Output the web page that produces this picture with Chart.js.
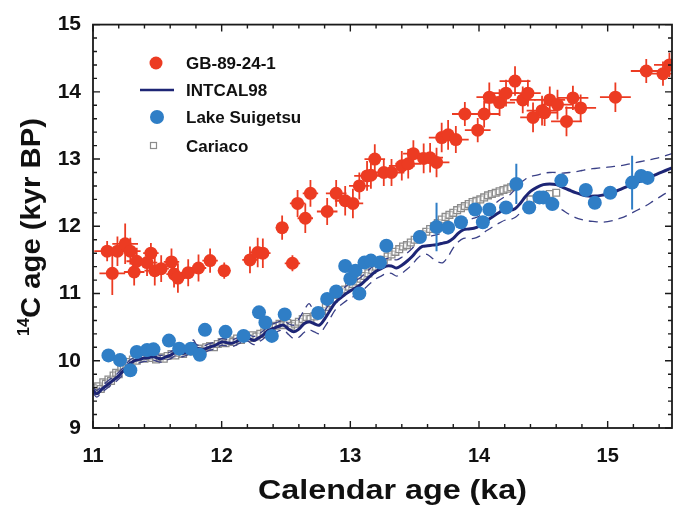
<!DOCTYPE html>
<html>
<head>
<meta charset="utf-8">
<script src="https://cdn.jsdelivr.net/npm/chart.js@4.4.1/dist/chart.umd.min.js"></script>
<style>
  body { margin: 0; background: #fff; }
  #wrap { width: 673px; height: 508px; }
</style>
</head>
<body>
<div id="wrap"><canvas id="chart" width="673" height="508"></canvas></div>
<script>
// GB-89-24-1 (calendar age ka, 14C age kyr BP, errors)
const gbAge = [11.11, 11.15, 11.19, 11.25, 11.29, 11.32, 11.34, 11.42, 11.45, 11.48, 11.53, 11.61, 11.63, 11.66,
  11.74, 11.82, 11.91, 12.02, 12.22, 12.28, 12.32, 12.47, 12.55, 12.59, 12.65, 12.69, 12.82, 12.89, 12.96, 13.02,
  13.07, 13.13, 13.16, 13.19, 13.26, 13.32, 13.40, 13.45, 13.49, 13.57, 13.62, 13.67, 13.71, 13.76, 13.82, 13.89,
  13.99, 14.04, 14.08, 14.16, 14.21, 14.28, 14.34, 14.38, 14.42, 14.49, 14.51, 14.55, 14.61, 14.68, 14.73, 14.79,
  15.06, 15.30, 15.43, 15.48];
const gbC14 = [11.63, 11.30, 11.63, 11.74, 11.63, 11.32, 11.48, 11.46, 11.60, 11.34, 11.37, 11.47, 11.29, 11.23,
  11.31, 11.38, 11.49, 11.34, 11.50, 11.61, 11.60, 11.98, 11.45, 12.34, 12.12, 12.49, 12.22, 12.49, 12.38, 12.34,
  12.60, 12.75, 12.76, 13.00, 12.80, 12.80, 12.90, 12.93, 13.08, 13.01, 13.02, 12.95, 13.32, 13.36, 13.29, 13.67,
  13.43, 13.67, 13.92, 13.84, 13.98, 14.16, 13.88, 13.98, 13.62, 13.72, 13.69, 13.88, 13.81, 13.56, 13.91, 13.76,
  13.92, 14.31, 14.27, 14.40];
const gbAgeErr = [0.10, 0.10, 0.08, 0.10, 0.08, 0.08, 0.08, 0.08, 0.06, 0.08, 0.06, 0.06, 0.06, 0.06,
  0.06, 0.06, 0.06, 0.05, 0.06, 0.06, 0.06, 0.05, 0.06, 0.06, 0.06, 0.06, 0.08, 0.08, 0.08, 0.08,
  0.08, 0.10, 0.08, 0.08, 0.10, 0.10, 0.10, 0.10, 0.08, 0.10, 0.10, 0.10, 0.10, 0.08, 0.10, 0.10,
  0.10, 0.12, 0.10, 0.12, 0.10, 0.12, 0.10, 0.10, 0.10, 0.12, 0.10, 0.12, 0.12, 0.12, 0.12, 0.12,
  0.12, 0.12, 0.12, 0.12];
const gbC14Err = [0.15, 0.32, 0.22, 0.30, 0.20, 0.20, 0.20, 0.20, 0.15, 0.22, 0.20, 0.20, 0.20, 0.22,
  0.20, 0.20, 0.18, 0.12, 0.20, 0.22, 0.22, 0.18, 0.12, 0.20, 0.22, 0.20, 0.20, 0.20, 0.22, 0.22,
  0.20, 0.22, 0.20, 0.22, 0.20, 0.20, 0.22, 0.22, 0.20, 0.22, 0.22, 0.22, 0.22, 0.22, 0.20, 0.18,
  0.18, 0.20, 0.22, 0.20, 0.20, 0.22, 0.20, 0.20, 0.22, 0.22, 0.20, 0.20, 0.22, 0.22, 0.18, 0.20,
  0.22, 0.18, 0.18, 0.18];

// Lake Suigetsu
const lakeAge = [11.12, 11.21, 11.29, 11.34, 11.42, 11.47, 11.59, 11.67, 11.76, 11.83, 11.87, 12.03, 12.17, 12.29,
  12.34, 12.39, 12.49, 12.75, 12.82, 12.89, 12.96, 13.00, 13.04, 13.07, 13.11, 13.16, 13.23, 13.28, 13.54, 13.67,
  13.76, 13.86, 13.97, 14.03, 14.08, 14.21, 14.29, 14.39, 14.47, 14.50, 14.57, 14.64, 14.83, 14.90, 15.02, 15.19,
  15.26, 15.31];
const lakeC14 = [10.08, 10.01, 9.86, 10.13, 10.16, 10.17, 10.30, 10.18, 10.18, 10.09, 10.46, 10.43, 10.37, 10.72,
  10.57, 10.37, 10.69, 10.71, 10.92, 11.03, 11.41, 11.22, 11.34, 11.00, 11.46, 11.49, 11.46, 11.71, 11.84, 11.99,
  11.98, 12.06, 12.25, 12.06, 12.25, 12.28, 12.63, 12.28, 12.43, 12.43, 12.33, 12.68, 12.54, 12.35, 12.50, 12.65,
  12.75, 12.72];
const lakeC14Err = [0.06, 0.06, 0.06, 0.06, 0.06, 0.06, 0.06, 0.06, 0.06, 0.06, 0.06, 0.06, 0.06, 0.06,
  0.06, 0.06, 0.06, 0.06, 0.06, 0.06, 0.06, 0.06, 0.06, 0.06, 0.06, 0.06, 0.06, 0.06, 0.06, 0.36,
  0.06, 0.06, 0.06, 0.06, 0.06, 0.06, 0.30, 0.06, 0.06, 0.06, 0.06, 0.06, 0.06, 0.06, 0.06, 0.40,
  0.06, 0.06];

// INTCAL98 with its 1-sigma envelope
const calAge = [11.00, 11.03, 11.07, 11.11, 11.15, 11.19, 11.24, 11.28, 11.32, 11.36, 11.40, 11.44, 11.47, 11.50,
  11.53, 11.57, 11.60, 11.65, 11.70, 11.75, 11.78, 11.80, 11.82, 11.86, 11.90, 11.95, 12.00, 12.04, 12.08, 12.13,
  12.19, 12.25, 12.28, 12.32, 12.36, 12.40, 12.44, 12.48, 12.52, 12.56, 12.60, 12.64, 12.68, 12.72, 12.76, 12.80,
  12.84, 12.88, 12.92, 12.96, 13.00, 13.04, 13.08, 13.12, 13.16, 13.20, 13.24, 13.28, 13.32, 13.36, 13.40, 13.44,
  13.48, 13.52, 13.56, 13.60, 13.64, 13.68, 13.72, 13.76, 13.80, 13.84, 13.88, 13.92, 13.96, 14.00, 14.04, 14.08,
  14.12, 14.16, 14.20, 14.24, 14.28, 14.32, 14.36, 14.40, 14.45, 14.50, 14.55, 14.60, 14.65, 14.70, 14.75, 14.80,
  14.85, 14.90, 14.95, 15.00, 15.05, 15.10, 15.15, 15.20, 15.25, 15.30, 15.35, 15.40, 15.45, 15.50];
const calC14 = [9.56, 9.51, 9.58, 9.64, 9.70, 9.76, 9.86, 9.95, 10.00, 10.02, 10.04, 10.05, 10.06, 10.04,
  10.03, 10.06, 10.08, 10.13, 10.11, 10.16, 10.26, 10.20, 10.18, 10.17, 10.20, 10.23, 10.28, 10.27, 10.26, 10.30,
  10.35, 10.30, 10.33, 10.38, 10.45, 10.48, 10.51, 10.53, 10.47, 10.43, 10.47, 10.55, 10.58, 10.55, 10.53, 10.62,
  10.74, 10.86, 10.93, 10.99, 11.04, 11.08, 11.13, 11.20, 11.27, 11.33, 11.37, 11.41, 11.41, 11.38, 11.42, 11.48,
  11.55, 11.64, 11.70, 11.71, 11.72, 11.73, 11.75, 11.77, 11.82, 11.90, 11.95, 11.96, 11.97, 12.00, 12.06, 12.11,
  12.16, 12.21, 12.26, 12.24, 12.26, 12.34, 12.44, 12.52, 12.58, 12.62, 12.63, 12.62, 12.58, 12.54, 12.50, 12.47,
  12.45, 12.45, 12.46, 12.48, 12.51, 12.55, 12.59, 12.63, 12.67, 12.71, 12.75, 12.79, 12.83, 12.87];
const calUpper = [9.60, 9.56, 9.63, 9.69, 9.75, 9.81, 9.91, 10.00, 10.05, 10.07, 10.09, 10.10, 10.11, 10.09,
  10.08, 10.11, 10.13, 10.18, 10.16, 10.21, 10.31, 10.25, 10.23, 10.22, 10.25, 10.28, 10.33, 10.32, 10.31, 10.35,
  10.40, 10.36, 10.39, 10.44, 10.51, 10.55, 10.58, 10.60, 10.55, 10.53, 10.62, 10.75, 10.85, 10.72, 10.66, 10.74,
  10.86, 10.97, 11.04, 11.10, 11.15, 11.19, 11.24, 11.31, 11.38, 11.44, 11.48, 11.52, 11.52, 11.50, 11.54, 11.60,
  11.67, 11.76, 11.82, 11.84, 11.86, 11.88, 11.90, 11.92, 11.96, 12.03, 12.08, 12.10, 12.12, 12.15, 12.21, 12.27,
  12.33, 12.39, 12.44, 12.47, 12.55, 12.64, 12.70, 12.74, 12.76, 12.79, 12.80, 12.80, 12.79, 12.80, 12.81, 12.83,
  12.85, 12.86, 12.87, 12.88, 12.89, 12.90, 12.92, 12.94, 12.96, 12.98, 13.00, 13.02, 13.05, 13.08];
const calLower = [9.52, 9.46, 9.53, 9.59, 9.65, 9.71, 9.81, 9.90, 9.95, 9.97, 9.99, 10.00, 10.01, 9.99,
  9.98, 10.01, 10.03, 10.08, 10.06, 10.11, 10.20, 10.15, 10.13, 10.12, 10.15, 10.18, 10.23, 10.22, 10.21, 10.25,
  10.30, 10.24, 10.27, 10.32, 10.39, 10.41, 10.44, 10.46, 10.39, 10.33, 10.35, 10.42, 10.46, 10.43, 10.40, 10.50,
  10.62, 10.75, 10.82, 10.88, 10.93, 10.97, 11.02, 11.09, 11.16, 11.22, 11.26, 11.30, 11.30, 11.26, 11.30, 11.36,
  11.43, 11.52, 11.58, 11.58, 11.52, 11.47, 11.46, 11.55, 11.68, 11.77, 11.82, 11.82, 11.82, 11.85, 11.91, 11.96,
  12.01, 12.05, 12.09, 12.10, 12.13, 12.20, 12.30, 12.36, 12.40, 12.40, 12.36, 12.30, 12.24, 12.18, 12.13, 12.10,
  12.08, 12.07, 12.06, 12.07, 12.09, 12.12, 12.16, 12.21, 12.26, 12.31, 12.37, 12.43, 12.49, 12.54];

// Cariaco basin
const carAge = [11.00, 11.02, 11.04, 11.06, 11.08, 11.10, 11.12, 11.14, 11.16, 11.18, 11.20, 11.22, 11.24, 11.26,
  11.28, 11.31, 11.34, 11.37, 11.40, 11.43, 11.46, 11.49, 11.52, 11.55, 11.58, 11.61, 11.64, 11.67, 11.70, 11.73,
  11.76, 11.79, 11.82, 11.85, 11.88, 11.91, 11.94, 11.97, 12.00, 12.03, 12.06, 12.09, 12.12, 12.15, 12.18, 12.21,
  12.24, 12.27, 12.30, 12.33, 12.36, 12.39, 12.42, 12.45, 12.48, 12.51, 12.54, 12.57, 12.60, 12.63, 12.66, 12.69,
  12.72, 12.75, 12.78, 12.81, 12.84, 12.87, 12.90, 12.93, 12.96, 12.99, 13.02, 13.05, 13.08, 13.11, 13.14, 13.17,
  13.20, 13.23, 13.26, 13.29, 13.32, 13.35, 13.38, 13.41, 13.44, 13.47, 13.50, 13.53, 13.56, 13.59, 13.62, 13.65,
  13.68, 13.71, 13.74, 13.77, 13.80, 13.83, 13.86, 13.89, 13.92, 13.95, 13.98, 14.01, 14.04, 14.07, 14.10, 14.13,
  14.16, 14.19, 14.22, 14.25, 14.28, 14.40, 14.45, 14.50, 14.55, 14.60];
const carC14 = [9.60, 9.55, 9.62, 9.58, 9.68, 9.66, 9.72, 9.70, 9.78, 9.82, 9.80, 9.90, 9.88, 9.95,
  9.98, 10.02, 10.00, 10.05, 10.03, 10.07, 10.04, 10.02, 10.05, 10.03, 10.07, 10.10, 10.08, 10.12, 10.10, 10.14,
  10.16, 10.14, 10.18, 10.15, 10.20, 10.22, 10.20, 10.25, 10.28, 10.26, 10.30, 10.28, 10.33, 10.31, 10.36, 10.34,
  10.38, 10.36, 10.40, 10.42, 10.45, 10.50, 10.52, 10.55, 10.53, 10.56, 10.52, 10.55, 10.58, 10.62, 10.65, 10.62,
  10.66, 10.70, 10.74, 10.80, 10.86, 10.92, 10.98, 11.02, 11.06, 11.10, 11.14, 11.18, 11.22, 11.26, 11.30, 11.35,
  11.40, 11.46, 11.50, 11.55, 11.58, 11.62, 11.66, 11.70, 11.72, 11.76, 11.80, 11.84, 11.88, 11.92, 11.96, 12.00,
  12.05, 12.10, 12.14, 12.17, 12.20, 12.24, 12.27, 12.30, 12.33, 12.36, 12.38, 12.40, 12.43, 12.46, 12.48, 12.50,
  12.52, 12.54, 12.56, 12.58, 12.60, 12.40, 12.42, 12.45, 12.48, 12.50];

// axis ticks
const xTicks = [11, 12, 13, 14, 15];
const xMinorTicks = [11.2, 11.4, 11.6, 11.8, 12.2, 12.4, 12.6, 12.8, 13.2, 13.4, 13.6, 13.8, 14.2, 14.4, 14.6, 14.8, 15.2, 15.4];
const yTicks = [9, 10, 11, 12, 13, 14, 15];
const yMinorTicks = [9.2, 9.4, 9.6, 9.8, 10.2, 10.4, 10.6, 10.8, 11.2, 11.4, 11.6, 11.8, 12.2, 12.4, 12.6, 12.8,
  13.2, 13.4, 13.6, 13.8, 14.2, 14.4, 14.6, 14.8];

const RED = '#ec3b22';
const BLUE = '#2f7ec6';
const NAVY = '#1d2575';
const GREY = '#8c8c8c';
const FONT = '"Liberation Sans", Arial, sans-serif';

const toPoints = (xs, ys) => xs.map((x, i) => ({ x, y: ys[i] }));

// draw text stretched to a given width
function fitText(ctx, text, x, y, size, targetWidth) {
  ctx.font = `bold ${size}px ${FONT}`;
  const w = ctx.measureText(text).width;
  ctx.save();
  ctx.translate(x, y);
  ctx.scale(targetWidth / w, 1);
  ctx.fillText(text, 0, 0);
  ctx.restore();
  return targetWidth;
}

const errorBars = {
  id: 'errorBars',
  beforeDatasetDraw(chart, args) {
    const ds = chart.data.datasets[args.index];
    if (!ds.errY) return;
    const { ctx, chartArea: a, scales: { x, y } } = chart;
    ctx.save();
    ctx.beginPath();
    ctx.rect(a.left, a.top, a.right - a.left, a.bottom - a.top);
    ctx.clip();
    ctx.strokeStyle = ds.errColor;
    ctx.lineWidth = ds.errWidth;
    ds.data.forEach((p, i) => {
      const px = x.getPixelForValue(p.x);
      const py = y.getPixelForValue(p.y);
      ctx.beginPath();
      ctx.moveTo(px, y.getPixelForValue(p.y - ds.errY[i]));
      ctx.lineTo(px, y.getPixelForValue(p.y + ds.errY[i]));
      if (ds.errX) {
        ctx.moveTo(x.getPixelForValue(p.x - ds.errX[i]), py);
        ctx.lineTo(x.getPixelForValue(p.x + ds.errX[i]), py);
      }
      ctx.stroke();
    });
    ctx.restore();
  }
};

const frameTicks = {
  id: 'frameTicks',
  afterDraw(chart) {
    const { ctx, chartArea: a, scales: { x, y } } = chart;
    ctx.save();
    ctx.strokeStyle = '#1a1a1a';
    ctx.lineWidth = 1.8;
    ctx.strokeRect(a.left, a.top, a.right - a.left, a.bottom - a.top);
    ctx.lineWidth = 1.4;
    ctx.beginPath();
    const xt = (v, len) => {
      const px = x.getPixelForValue(v);
      ctx.moveTo(px, a.bottom); ctx.lineTo(px, a.bottom - len);
      ctx.moveTo(px, a.top); ctx.lineTo(px, a.top + len);
    };
    const yt = (v, len) => {
      const py = y.getPixelForValue(v);
      ctx.moveTo(a.left, py); ctx.lineTo(a.left + len, py);
      ctx.moveTo(a.right, py); ctx.lineTo(a.right - len, py);
    };
    xTicks.forEach(v => xt(v, 7));
    xMinorTicks.forEach(v => xt(v, 4));
    yTicks.forEach(v => yt(v, 7));
    yMinorTicks.forEach(v => yt(v, 4));
    ctx.stroke();
    ctx.restore();
  }
};

const titlesLegend = {
  id: 'titlesLegend',
  afterDraw(chart) {
    const { ctx } = chart;
    ctx.save();
    ctx.fillStyle = '#111';
    ctx.textAlign = 'left';
    ctx.textBaseline = 'alphabetic';
    // x title
    fitText(ctx, 'Calendar age (ka)', 258, 499, 27, 269);
    // y title with superscript, rotated
    ctx.translate(40, 336);
    ctx.rotate(-Math.PI / 2);
    fitText(ctx, '14', 0, -11, 17, 18);
    fitText(ctx, 'C age (kyr BP)', 18, 0, 27, 200);
    ctx.restore();

    // legend
    ctx.save();
    ctx.font = `bold 17px ${FONT}`;
    ctx.textAlign = 'left';
    ctx.textBaseline = 'middle';
    ctx.fillStyle = '#111';
    const items = [
      { label: 'GB-89-24-1', y: 63 },
      { label: 'INTCAL98', y: 90 },
      { label: 'Lake Suigetsu', y: 117 },
      { label: 'Cariaco', y: 146 }
    ];
    items.forEach(it => ctx.fillText(it.label, 186, it.y + 1));
    ctx.fillStyle = RED;
    ctx.beginPath(); ctx.arc(156, 63, 6.5, 0, Math.PI * 2); ctx.fill();
    ctx.strokeStyle = NAVY; ctx.lineWidth = 2.5;
    ctx.beginPath(); ctx.moveTo(140, 90); ctx.lineTo(174, 90); ctx.stroke();
    ctx.fillStyle = BLUE;
    ctx.beginPath(); ctx.arc(157, 117, 7, 0, Math.PI * 2); ctx.fill();
    ctx.strokeStyle = GREY; ctx.lineWidth = 1.2;
    ctx.strokeRect(150.5, 142.5, 6, 6);
    ctx.restore();
  }
};

new Chart(document.getElementById('chart'), {
  type: 'scatter',
  data: {
    datasets: [
      {
        label: 'GB-89-24-1',
        data: toPoints(gbAge, gbC14),
        errX: gbAgeErr,
        errY: gbC14Err,
        errColor: RED,
        errWidth: 1.8,
        backgroundColor: RED,
        borderWidth: 0,
        pointRadius: 6.5
      },
      {
        label: 'Lake Suigetsu',
        data: toPoints(lakeAge, lakeC14),
        errY: lakeC14Err,
        errColor: BLUE,
        errWidth: 2,
        backgroundColor: BLUE,
        borderWidth: 0,
        pointRadius: 7
      },
      {
        label: 'INTCAL98',
        type: 'line',
        data: toPoints(calAge, calC14),
        borderColor: NAVY,
        borderWidth: 3,
        pointRadius: 0,
        tension: 0.3,
        fill: false
      },
      {
        label: 'INTCAL98 +1s',
        type: 'line',
        data: toPoints(calAge, calUpper),
        borderColor: '#3a4087',
        borderWidth: 1.3,
        borderDash: [9, 6],
        pointRadius: 0,
        tension: 0.3,
        fill: false
      },
      {
        label: 'INTCAL98 -1s',
        type: 'line',
        data: toPoints(calAge, calLower),
        borderColor: '#3a4087',
        borderWidth: 1.3,
        borderDash: [9, 6],
        pointRadius: 0,
        tension: 0.3,
        fill: false
      },
      {
        label: 'Cariaco',
        data: toPoints(carAge, carC14),
        pointStyle: 'rect',
        pointRadius: 4.8,
        backgroundColor: 'rgba(255,255,255,0.45)',
        borderColor: GREY,
        borderWidth: 1.3
      }
    ]
  },
  options: {
    responsive: false,
    animation: false,
    layout: { autoPadding: false, padding: { top: 23, right: 1, left: 0, bottom: 0 } },
    plugins: {
      legend: { display: false },
      tooltip: { enabled: false }
    },
    scales: {
      x: {
        type: 'linear',
        min: 11,
        max: 15.5,
        afterBuildTicks: s => { s.ticks = xTicks.map(v => ({ value: v })); },
        afterFit: s => { s.height = 80; s.paddingLeft = 0; s.paddingRight = 0; },
        grid: { display: false, drawTicks: false },
        border: { display: false },
        ticks: { color: '#111', padding: 16, font: { family: FONT, size: 20, weight: 'bold' } }
      },
      y: {
        type: 'linear',
        min: 9,
        max: 15,
        afterBuildTicks: s => { s.ticks = yTicks.map(v => ({ value: v })); },
        afterFit: s => { s.width = 93; },
        grid: { display: false, drawTicks: false },
        border: { display: false },
        ticks: { color: '#111', padding: 12, font: { family: FONT, size: 21, weight: 'bold' } }
      }
    }
  },
  plugins: [errorBars, frameTicks, titlesLegend]
});
</script>
</body>
</html>
